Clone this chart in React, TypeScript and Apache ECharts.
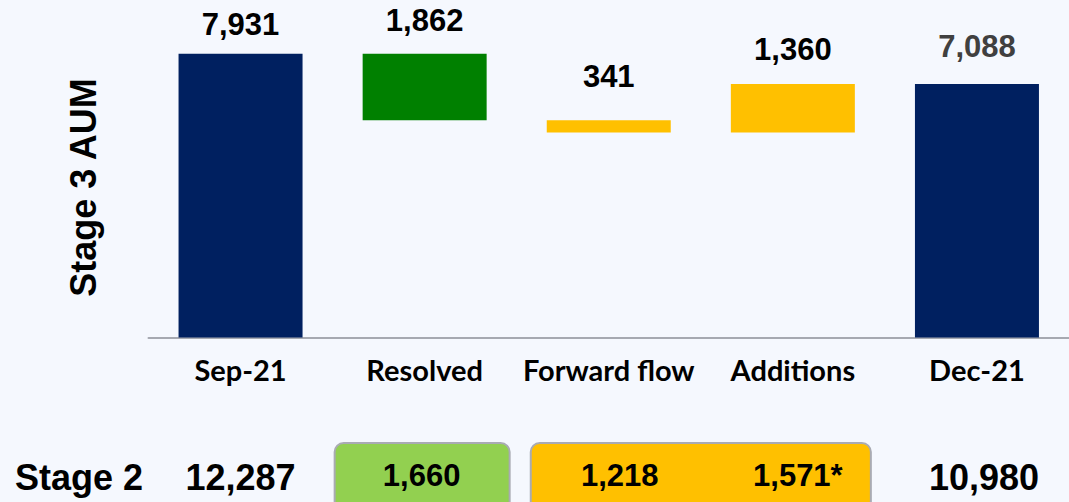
import React, { useEffect, useRef } from 'react';
import * as echarts from 'echarts';

const categories = ['Sep-21', 'Resolved', 'Forward flow', 'Additions', 'Dec-21'];
const stage3Values = [7931, 1862, 341, 1360, 7088];
const stage3Kinds = ['total', 'decrease', 'decrease', 'increase', 'total'];
const stage2Label = 'Stage 2';
const stage2Opening = '12,287';
const stage2Resolved = '1,660';
const stage2ForwardFlow = '1,218';
const stage2Additions = '1,571*';
const stage2Closing = '10,980';
const yAxisTitle = 'Stage 3 AUM';

// styling
const barColors = ['#002060', '#008000', '#FFC000', '#FFC000', '#002060'];
const labelColors = ['#000000', '#000000', '#000000', '#000000', '#404040'];
const labelGaps = [14, 18, 28, 19, 22];
const BG = '#F5F8FE';
const NUM_FONT = '"Liberation Sans", Arial, sans-serif';
const CAT_FONT = 'Lato, "Open Sans", sans-serif';

function computeBases(values: number[], kinds: string[]): number[] {
  const bases: number[] = [];
  let running = 0;
  values.forEach((v, i) => {
    const k = kinds[i];
    if (k === 'total') {
      bases.push(0);
      running = v;
    } else if (k === 'decrease') {
      running -= v;
      bases.push(running);
    } else {
      bases.push(running);
      running += v;
    }
  });
  return bases;
}

export default function App() {
  const ref = useRef<HTMLDivElement>(null);

  useEffect(() => {
    if (!ref.current) return;
    const chart = echarts.init(ref.current, undefined, { renderer: 'svg' });
    const bases = computeBases(stage3Values, stage3Kinds);

    chart.setOption({
      animation: false,
      backgroundColor: BG,
      grid: { left: 148.5, width: 925, top: 15.5, height: 322 },
      xAxis: {
        type: 'category',
        data: categories,
        axisLine: { show: true, lineStyle: { color: '#A6A9B1', width: 2 } },
        axisTick: { show: false },
        axisLabel: {
          color: '#000000',
          fontFamily: CAT_FONT,
          fontWeight: 'bold',
          fontSize: 29,
          margin: 17,
          interval: 0,
        },
      },
      yAxis: {
        type: 'value',
        min: 0,
        max: 9000,
        show: false,
        splitLine: { show: false },
      },
      series: [
        {
          type: 'bar',
          stack: 'wf',
          barWidth: 124,
          silent: true,
          itemStyle: { color: 'transparent' },
          data: bases,
        },
        {
          type: 'bar',
          stack: 'wf',
          barWidth: 124,
          data: stage3Values.map((v, i) => ({
            value: v,
            itemStyle: { color: barColors[i] },
            label: {
              show: true,
              position: 'top',
              distance: labelGaps[i],
              color: labelColors[i],
              fontFamily: NUM_FONT,
              fontWeight: 'bold',
              fontSize: 31,
              formatter: () => v.toLocaleString('en-US'),
            },
          })),
        },
      ],
    });

    const cx = (i: number) => chart.convertToPixel({ xAxisIndex: 0 }, categories[i]) as number;
    const rowY = 477;
    const boxTextY = 475;
    const boxTop = 443;
    const numText = (x: number, y: number, text: string, size: number, align = 'center') => ({
      type: 'text',
      x,
      y,
      style: {
        text,
        fill: '#000000',
        font: `bold ${size}px ${NUM_FONT}`,
        textAlign: align,
        textVerticalAlign: 'middle',
        align,
        verticalAlign: 'middle',
      },
    });
    const greenLeft = cx(1) - 90;
    const greenRight = cx(1) + 85;
    const yellowLeft = cx(2) - 78;
    const yellowRight = cx(3) + 78;

    chart.setOption({
      graphic: [
        {
          type: 'text',
          x: 83,
          y: 187.5,
          rotation: Math.PI / 2,
          style: {
            text: yAxisTitle,
            fill: '#000000',
            font: `bold 36px ${NUM_FONT}`,
            align: 'center',
            verticalAlign: 'middle',
          },
        },
        numText(15, rowY, stage2Label, 36, 'left'),
        numText(cx(0), rowY, stage2Opening, 36),
        {
          type: 'rect',
          shape: { x: greenLeft, y: boxTop, width: greenRight - greenLeft, height: 80, r: 9 },
          style: { fill: '#92D050', stroke: '#A9ABB3', lineWidth: 2 },
        },
        {
          type: 'rect',
          shape: { x: yellowLeft, y: boxTop, width: yellowRight - yellowLeft, height: 80, r: 9 },
          style: { fill: '#FFC000', stroke: '#A9ABB3', lineWidth: 2 },
        },
        numText(cx(1) - 3, boxTextY, stage2Resolved, 31),
        numText(cx(2) + 11, boxTextY, stage2ForwardFlow, 31),
        numText(cx(3) + 5, boxTextY, stage2Additions, 31),
        numText(cx(4) + 7, rowY, stage2Closing, 36),
      ],
    });

    return () => chart.dispose();
  }, []);

  return (
    <div
      ref={ref}
      style={{ position: 'fixed', left: 0, top: 0, width: 1069, height: 502, background: BG }}
    />
  );
}
